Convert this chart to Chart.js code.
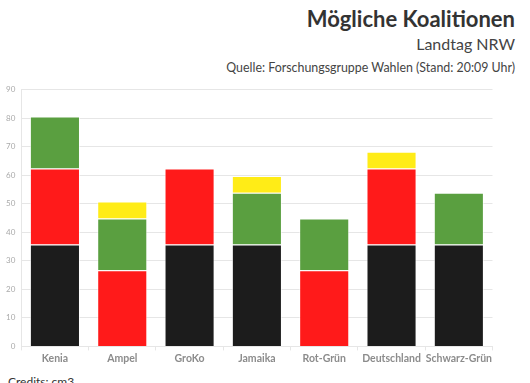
<!DOCTYPE html>
<html><head><meta charset="utf-8">
<script src="https://cdn.jsdelivr.net/npm/chart.js@4/dist/chart.umd.min.js"></script>
<style>
html,body{margin:0;padding:0;background:#fff;width:530px;height:383px;overflow:hidden;font-family:Lato,"Noto Sans",sans-serif;}
#h1{position:absolute;right:15px;top:5px;font-size:22px;font-weight:bold;color:#333;}
#h2{position:absolute;right:15px;top:34px;font-size:16px;color:#444;}
#h3{position:absolute;right:15px;top:60px;font-size:12.4px;color:#444;}
#cr{position:absolute;left:8px;top:374px;font-size:12px;color:#333;}
#wrap{position:absolute;left:0;top:79px;width:494px;height:288px;}
</style></head><body>
<div id="h1">Mögliche Koalitionen</div>
<div id="h2">Landtag NRW</div>
<div id="h3">Quelle: Forschungsgruppe Wahlen (Stand: 20:09 Uhr)</div>
<div id="wrap"><canvas id="c"></canvas></div>
<div id="cr">Credits: cm3</div>
<script>
const categories = ["Kenia","Ampel","GroKo","Jamaika","Rot-Grün","Deutschland","Schwarz-Grün"];
const cdu   = [35.7, null, 35.7, 35.7, null, 35.7, 35.7];
const spd   = [26.7, 26.7, 26.7, null, 26.7, 26.7, null];
const gruene= [18.2, 18.2, null, 18.2, 18.2, null, 18.2];
const fdp   = [null, 5.9, null, 5.9, null, 5.9, null];
const yTicks = [0,10,20,30,40,50,60,70,80,90];

const mk = (label, data, color) => ({label, data, backgroundColor: color, borderColor: 'rgba(255,255,255,0.6)', borderWidth: 1, barPercentage: 0.93, categoryPercentage: 0.8});
new Chart(document.getElementById('c'), {
  type: 'bar',
  data: { labels: categories, datasets: [
    mk('CDU', cdu, '#1c1c1c'),
    mk('SPD', spd, '#ff1a1a'),
    mk('Grüne', gruene, '#5a9f40'),
    mk('FDP', fdp, '#ffec17')
  ]},
  options: {
    responsive: true, maintainAspectRatio: false, animation: false,
    layout: {padding: {left: 0, right: 0, top: 0, bottom: 0}},
    plugins: { legend: {display: false}, tooltip: {enabled: false} },
    scales: {
      x: { stacked: true,
        grid: {display: true, drawOnChartArea: false, drawTicks: true, tickLength: 4, color: '#e6e6e6'},
        border: {color: '#e6e6e6'},
        ticks: {color: '#8c8c8c', font: {family: 'Lato', size: 10.5, weight: 'bold'}, padding: 2, maxRotation: 0, minRotation: 0, autoSkip: false} },
      y: { stacked: true, min: 0, max: 90,
        afterBuildTicks: s => { s.ticks = yTicks.map(v => ({value: v})); },
        grid: {color: '#e6e6e6', drawTicks: false},
        border: {color: '#e6e6e6'},
        ticks: {color: '#aaaaaa', font: {family: 'Lato', size: 8}, padding: 6} }
    }
  }
});
</script>
</body></html>
